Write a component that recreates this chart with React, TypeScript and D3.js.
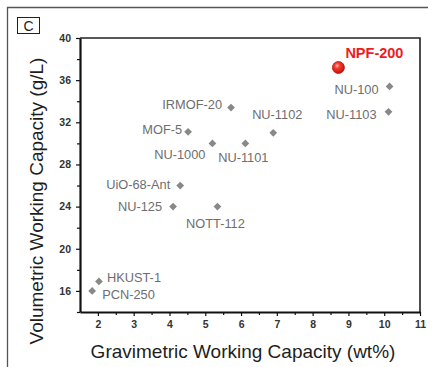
import { useEffect, useRef } from 'react';
import * as d3 from 'd3';

const materials = ['NPF-200', 'NU-100', 'NU-1103', 'IRMOF-20', 'NU-1102', 'NU-1101', 'NU-1000', 'MOF-5', 'UiO-68-Ant', 'NU-125', 'NOTT-112', 'HKUST-1', 'PCN-250'];
const gravimetric = [8.72, 10.15, 10.12, 5.72, 6.9, 6.12, 5.2, 4.52, 4.3, 4.1, 5.34, 2.03, 1.84];
const volumetric = [37.2, 35.4, 33.0, 33.4, 31.0, 30.0, 30.0, 31.1, 26.0, 24.0, 24.0, 16.9, 16.0];
const xTicks = [2, 3, 4, 5, 6, 7, 8, 9, 10, 11];
const yTicks = [16, 20, 24, 28, 32, 36, 40];

// label placement relative to each point (px)
const labelPos: Record<string, { dx: number; dy: number; anchor: string }> = {
  'NPF-200': { dx: 7, dy: -10, anchor: 'start' },
  'NU-100': { dx: -11, dy: 7.5, anchor: 'end' },
  'NU-1103': { dx: -12, dy: 7.5, anchor: 'end' },
  'IRMOF-20': { dx: -9, dy: 1.5, anchor: 'end' },
  'NU-1102': { dx: 4, dy: -13.5, anchor: 'middle' },
  'NU-1101': { dx: -2, dy: 18.5, anchor: 'middle' },
  'NU-1000': { dx: -7, dy: 15.5, anchor: 'end' },
  'MOF-5': { dx: -6, dy: 2.5, anchor: 'end' },
  'UiO-68-Ant': { dx: -10, dy: 3.5, anchor: 'end' },
  'NU-125': { dx: -11, dy: 4.5, anchor: 'end' },
  'NOTT-112': { dx: -2, dy: 21.5, anchor: 'middle' },
  'HKUST-1': { dx: 8, dy: 0.5, anchor: 'start' },
  'PCN-250': { dx: 10, dy: 8.5, anchor: 'start' },
};

const FONT = '"Liberation Sans", Arial, sans-serif';

export default function App() {
  const svgRef = useRef<SVGSVGElement>(null);

  useEffect(() => {
    if (!svgRef.current) return;
    const W = 435;
    const H = 367;
    const m = { left: 80, right: 15, top: 38, bottom: 55 };

    const svg = d3.select(svgRef.current);
    svg.selectAll('*').remove();

    const x = d3.scaleLinear().domain([1.5, 11]).range([m.left, W - m.right]);
    const y = d3.scaleLinear().domain([14, 40]).range([H - m.bottom, m.top]);

    // outer panel frame
    svg.append('path').attr('d', `M7.5,${H}V7.5H428`).attr('fill', 'none').attr('stroke', '#555').attr('stroke-width', 1.3);

    // panel letter
    svg.append('rect').attr('x', 17.5).attr('y', 17.5).attr('width', 22).attr('height', 16).attr('fill', '#fff').attr('stroke', '#222').attr('stroke-width', 1);
    svg.append('text').attr('x', 28.5).attr('y', 30.5).attr('text-anchor', 'middle').attr('font-family', FONT).attr('font-size', 14).attr('fill', '#222').text('C');

    // plot box (top + right)
    svg.append('path')
      .attr('d', `M${x(1.5)},${y(40)}H${x(11)}V${y(14)}`)
      .attr('fill', 'none').attr('stroke', '#222').attr('stroke-width', 1.6);

    // minor ticks
    const xMinor = xTicks.slice(0, -1).map((t) => t + 0.5);
    const yMinor = yTicks.map((t) => t - 2);
    svg.append('g').attr('transform', `translate(0,${y(14)})`)
      .call(d3.axisBottom(x).tickValues(xMinor).tickSize(3).tickFormat(() => ''))
      .call((g) => g.select('.domain').remove());
    svg.append('g').attr('transform', `translate(${x(1.5)},0)`)
      .call(d3.axisLeft(y).tickValues(yMinor).tickSize(3).tickFormat(() => ''))
      .call((g) => g.select('.domain').remove());

    // major axes
    const xAxis = svg.append('g').attr('transform', `translate(0,${y(14)})`)
      .call(d3.axisBottom(x).tickValues(xTicks).tickSize(4).tickPadding(5).tickSizeOuter(0));
    const yAxis = svg.append('g').attr('transform', `translate(${x(1.5)},0)`)
      .call(d3.axisLeft(y).tickValues(yTicks).tickSize(4).tickPadding(5).tickSizeOuter(0));

    for (const ax of [xAxis, yAxis]) {
      ax.select('.domain').attr('stroke', '#111').attr('stroke-width', 2.2);
      ax.selectAll('.tick text').attr('fill', '#333').attr('font-family', FONT).attr('font-weight', 'bold').style('font-size', '10.5px');
    }
    svg.selectAll('.tick line').attr('stroke', '#111').attr('stroke-width', 1.2);

    // axis titles
    svg.append('text')
      .attr('x', 243).attr('y', 358)
      .attr('text-anchor', 'middle').attr('font-family', FONT).attr('font-size', 19).attr('fill', '#1e1e1e')
      .text('Gravimetric Working Capacity (wt%)');
    svg.append('text')
      .attr('transform', `translate(43,201) rotate(-90)`)
      .attr('text-anchor', 'middle').attr('font-family', FONT).attr('font-size', 19).attr('fill', '#1e1e1e')
      .text('Volumetric Working Capacity (g/L)');

    // points
    const defs = svg.append('defs');
    const grad = defs.append('radialGradient').attr('id', 'redball').attr('cx', '40%').attr('cy', '35%').attr('r', '65%');
    grad.append('stop').attr('offset', '0%').attr('stop-color', '#ffb3a8');
    grad.append('stop').attr('offset', '35%').attr('stop-color', '#f23a2c');
    grad.append('stop').attr('offset', '100%').attr('stop-color', '#c4100e');

    const diamond = d3.symbol().type(d3.symbolSquare).size(30);
    const data = materials.map((name, i) => ({ name, gx: gravimetric[i], vy: volumetric[i] }));

    const pts = svg.append('g');
    data.forEach((d) => {
      const px = x(d.gx);
      const py = y(d.vy);
      const p = labelPos[d.name];
      const highlight = d.name === 'NPF-200';
      if (highlight) {
        pts.append('circle').attr('cx', px).attr('cy', py).attr('r', 6)
          .attr('fill', 'url(#redball)').attr('stroke', '#b51512').attr('stroke-width', 0.8);
      } else {
        pts.append('path').attr('d', diamond()!)
          .attr('transform', `translate(${px},${py}) rotate(45)`)
          .attr('fill', '#888');
      }
      pts.append('text')
        .attr('x', px + p.dx).attr('y', py + p.dy)
        .attr('text-anchor', p.anchor)
        .attr('font-family', FONT)
        .attr('font-size', highlight ? 14.5 : 12.8)
        .attr('font-weight', highlight ? 'bold' : 'normal')
        .attr('fill', highlight ? '#ec1c24' : '#6e6e6e')
        .text(d.name);
    });
  }, []);

  return (
    <div style={{ position: 'fixed', left: 0, top: 0, background: '#fff' }}>
      <svg ref={svgRef} width={435} height={367} style={{ display: 'block' }} />
    </div>
  );
}
